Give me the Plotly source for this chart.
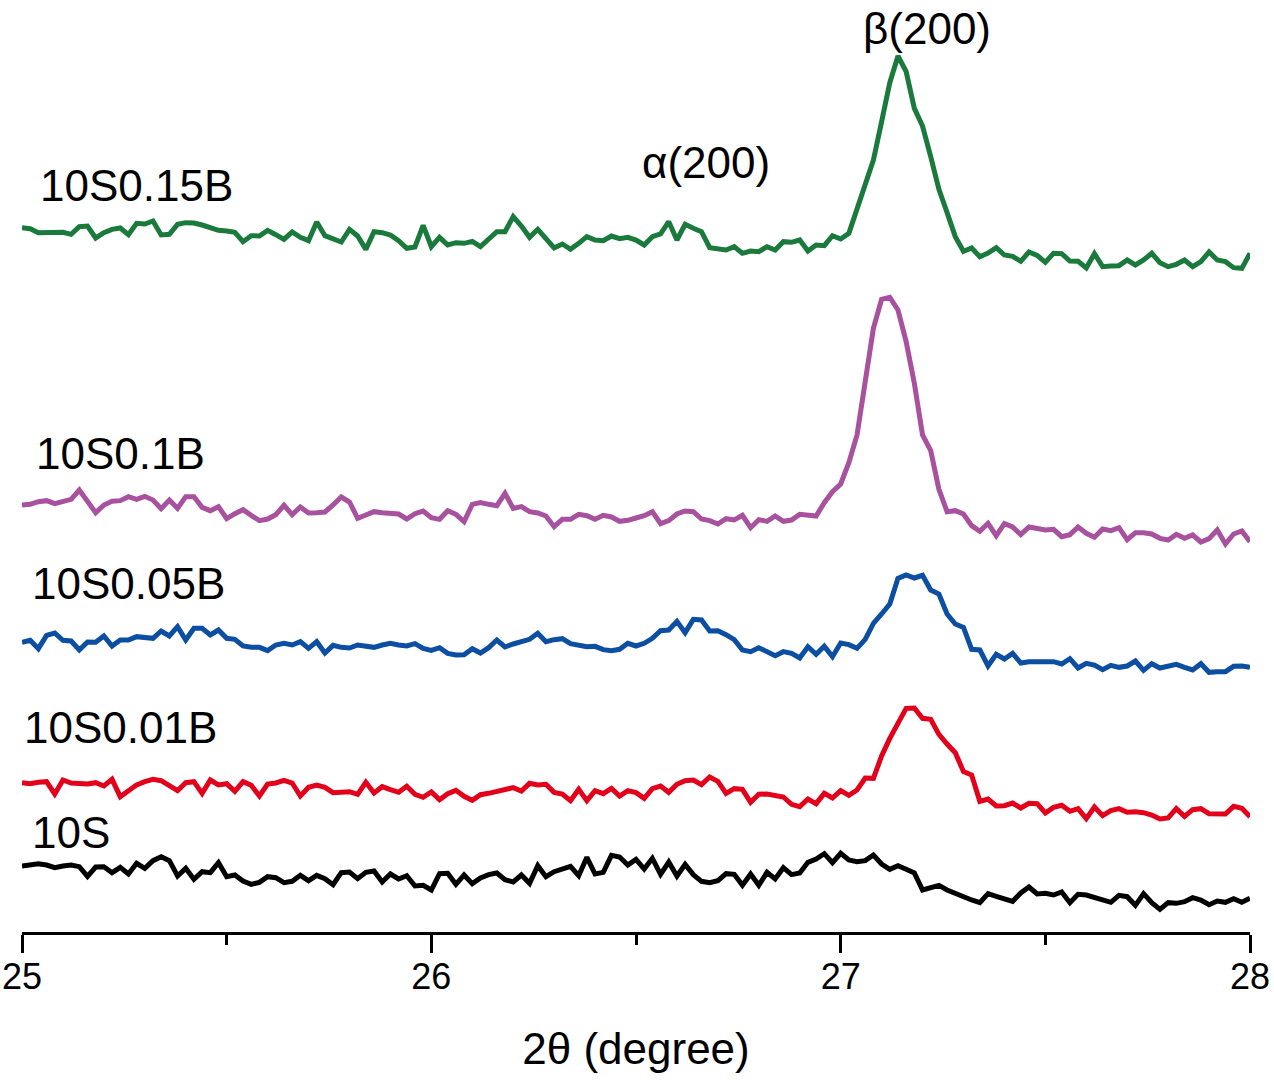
import numpy as np
import plotly.graph_objects as go

# --- XRD scan: 2-theta grid (25 to 28 deg, 0.02 step) ---
two_theta = np.round(np.linspace(25.0, 28.0, 151), 2)

# intensities (a.u.), already stacked with vertical offsets as in the figure
i_10S = [
    198, 200, 205, 201, 193, 198, 201, 196, 167, 195,
    196, 178, 194, 174, 206, 191, 214, 226, 214, 168,
    191, 158, 181, 178, 208, 166, 171, 153, 143, 149,
    166, 163, 148, 152, 170, 154, 170, 160, 142, 178,
    180, 160, 179, 183, 150, 174, 159, 169, 138, 140,
    126, 175, 176, 143, 171, 145, 162, 172, 177, 157,
    150, 171, 146, 199, 166, 181, 188, 197, 169, 224,
    174, 179, 230, 225, 201,
    218, 189, 221, 173, 210, 168, 203, 172, 152, 148,
    154, 175, 173, 140, 174, 140, 179, 159, 193, 172,
    177, 209, 219, 235, 208, 236, 216, 211, 214, 231,
    204, 188, 199, 188, 177, 126, 132, 140, 126, 115,
    105, 96, 88, 115, 107, 98, 92, 117, 135, 114,
    116, 111, 120, 88, 113, 111, 104, 96, 89, 110,
    106, 80, 115, 88, 68, 88, 86, 91, 103, 96,
    82, 93, 89, 100, 89, 101,
]

i_10S001B = [
    448, 445, 449, 451, 414, 456, 447, 446, 444, 448,
    438, 458, 406, 424, 441, 451, 458, 454, 441, 424,
    448, 451, 416, 456, 441, 445, 422, 451, 440, 408,
    444, 447, 455, 447, 408, 434, 441, 434, 418, 421,
    421, 413, 449, 417, 436, 427, 419, 437, 413, 404,
    420, 397, 415, 425, 407, 395, 412, 416, 421, 426,
    433, 423, 446, 441, 443, 419, 414, 394, 428, 394,
    424, 415, 431, 408, 424,
    418, 401, 430, 438, 419, 443, 454, 456, 442, 465,
    452, 416, 430, 428, 389, 413, 414, 411, 405, 383,
    376, 399, 385, 416, 402, 424, 410, 426, 462, 461,
    528, 581, 626, 671, 672, 641, 638, 593, 564, 538,
    481, 471, 392, 399, 378, 379, 387, 372, 386, 385,
    357, 374, 380, 362, 370, 340, 375, 349, 364, 370,
    359, 361, 358, 351, 339, 342, 370, 347, 367, 370,
    355, 354, 354, 377, 371, 346,
]

i_10S005B = [
    869, 875, 850, 890, 897, 875, 873, 846, 870, 869,
    888, 858, 876, 876, 886, 884, 881, 903, 888, 916,
    876, 911, 911, 891, 906, 881, 878, 858, 854, 854,
    844, 861, 866, 861, 871, 851, 871, 837, 860, 854,
    852, 861, 858, 854, 861, 866, 861, 858, 865, 851,
    845, 853, 836, 831, 832, 850, 837, 853, 876, 855,
    864, 872, 878, 896, 871, 877, 880, 865, 860, 856,
    857, 847, 844, 848, 866,
    858, 866, 881, 904, 906, 932, 898, 938, 936, 903,
    904, 892, 877, 846, 841, 853, 842, 829, 841, 836,
    822, 856, 833, 857, 826, 867, 862, 851, 878, 926,
    954, 984, 1061, 1071, 1062, 1070, 1026, 1014, 954, 924,
    914, 848, 846, 798, 833, 819, 836, 807, 811, 811,
    811, 811, 804, 820, 792, 806, 801, 787, 800, 794,
    798, 813, 785, 805, 792, 798, 803, 794, 786, 805,
    779, 781, 781, 797, 798, 794,
]

i_10S01B = [
    1281, 1283, 1291, 1294, 1285, 1292, 1298, 1326, 1293, 1258,
    1281, 1292, 1294, 1306, 1298, 1307, 1296, 1270, 1296, 1271,
    1306, 1306, 1274, 1264, 1276, 1240, 1255, 1267, 1250, 1234,
    1239, 1252, 1280, 1252, 1275, 1257, 1258, 1260, 1281, 1305,
    1290, 1241, 1251, 1261, 1258, 1256, 1254, 1239, 1255, 1263,
    1243, 1238, 1264, 1253, 1231, 1283, 1288, 1283, 1279, 1316,
    1271, 1276, 1261, 1257, 1248, 1216, 1238, 1238, 1253, 1249,
    1238, 1250, 1245, 1232, 1235,
    1242, 1249, 1261, 1225, 1234, 1254, 1263, 1261, 1239, 1234,
    1224, 1240, 1236, 1250, 1213, 1237, 1232, 1248, 1232, 1236,
    1253, 1251, 1248, 1288, 1321, 1344, 1408, 1491, 1646, 1811,
    1898, 1904, 1866, 1771, 1646, 1491, 1444, 1328, 1261, 1264,
    1254, 1219, 1202, 1226, 1189, 1225, 1215, 1192, 1215, 1211,
    1206, 1208, 1186, 1192, 1215, 1196, 1184, 1209, 1204, 1213,
    1177, 1198, 1198, 1194, 1181, 1176, 1193, 1181, 1191, 1170,
    1180, 1206, 1164, 1194, 1203, 1171,
]

i_10S015B = [
    2113, 2110, 2098, 2099, 2101, 2099, 2093, 2116, 2118, 2082,
    2098, 2108, 2112, 2092, 2126, 2124, 2133, 2091, 2093, 2123,
    2128, 2127, 2121, 2112, 2105, 2103, 2099, 2071, 2089, 2088,
    2105, 2092, 2078, 2100, 2084, 2074, 2130, 2089, 2081, 2070,
    2108, 2088, 2048, 2101, 2098, 2091, 2074, 2051, 2055, 2120,
    2056, 2084, 2061, 2068, 2066, 2072, 2056, 2080, 2101, 2101,
    2146, 2118, 2084, 2108, 2082, 2052, 2064, 2048, 2066, 2086,
    2076, 2074, 2088, 2080, 2084,
    2076, 2061, 2086, 2094, 2131, 2076, 2123, 2111, 2101, 2053,
    2048, 2046, 2056, 2036, 2043, 2041, 2056, 2046, 2071, 2069,
    2076, 2043, 2061, 2059, 2089, 2079, 2096, 2173, 2246, 2316,
    2431, 2548, 2628, 2581, 2471, 2418, 2326, 2228, 2158, 2086,
    2042, 2052, 2026, 2037, 2053, 2031, 2027, 2012, 2040, 2030,
    2009, 2036, 2035, 2013, 2012, 1992, 2035, 1996, 1998, 1999,
    2016, 2001, 2016, 2036, 2008, 1996, 2003, 2016, 1996, 2011,
    2040, 2016, 2011, 1993, 1991, 2036,
]

samples = ["10S", "10S0.01B", "10S0.05B", "10S0.1B", "10S0.15B"]
series = [i_10S, i_10S001B, i_10S005B, i_10S01B, i_10S015B]
colors = ["#000000", "#e2001a", "#0b4ea2", "#a8519e", "#1a7a3c"]

# label positions (angle, intensity) next to each pattern
label_x = [25.02, 25.0, 25.02, 25.03, 25.04]
label_y = [300, 615, 1047, 1437, 2241]

peak_labels = ["α(200)", "β(200)"]
peak_x = [26.51, 27.05]
peak_y = [2310, 2712]

FONT = "Liberation Sans, Arial, sans-serif"

fig = go.Figure()
for name, y, c in zip(samples, series, colors):
    fig.add_trace(go.Scatter(
        x=two_theta, y=y, mode="lines", name=name,
        line=dict(color=c, width=5),
    ))

for name, x, y in zip(samples + peak_labels, label_x + peak_x, label_y + peak_y):
    fig.add_annotation(x=x, y=y, text=name, showarrow=False,
                       xanchor="left", yanchor="middle",
                       font=dict(size=44, color="black", family=FONT))

fig.update_layout(
    width=1274, height=1080,
    margin=dict(l=22, r=24, t=0, b=148),
    paper_bgcolor="white", plot_bgcolor="white",
    showlegend=False,
    font=dict(family=FONT, color="black"),
)
fig.update_xaxes(
    range=[25, 28], showgrid=False, zeroline=False,
    showline=True, linecolor="black", linewidth=3,
    ticks="outside", ticklen=18, tickwidth=3, tickcolor="black",
    tick0=25, dtick=1,
    minor=dict(ticks="outside", ticklen=10, tickwidth=3,
               tickcolor="black", dtick=0.5, showgrid=False),
    tickfont=dict(size=36, family=FONT),
    ticklabelstandoff=-7,
    title=dict(text="2θ (degree)", font=dict(size=44, family=FONT), standoff=37),
)
fig.update_yaxes(range=[0, 2796], visible=False)

# drop the default 8px body margin so the figure fills the window exactly
fig.write_html("out.html", config={"displayModeBar": False},
               post_script="document.body.style.margin='0';")
